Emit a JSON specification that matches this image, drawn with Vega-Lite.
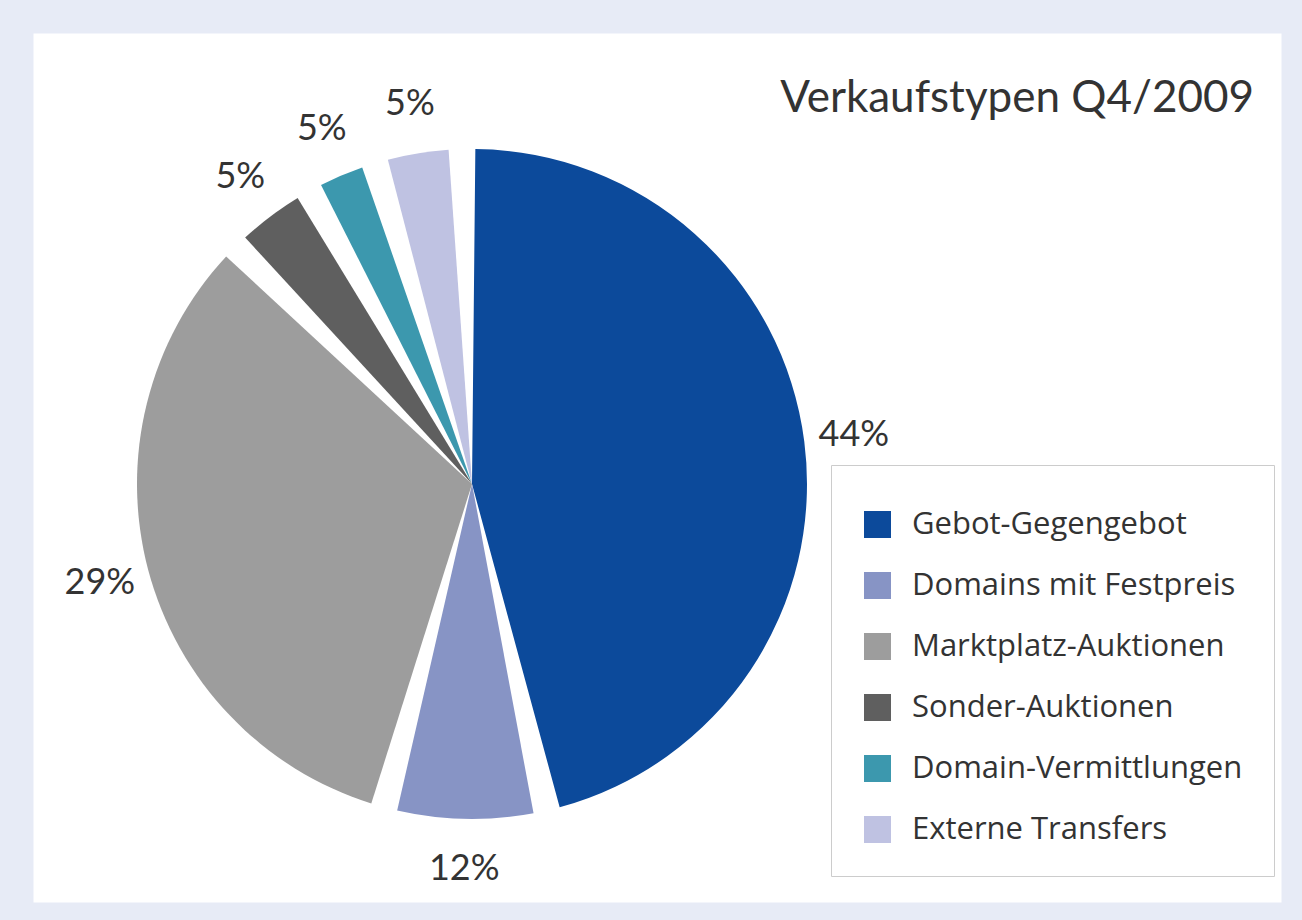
{
  "$schema": "https://vega.github.io/schema/vega-lite/v6.json",
  "width": 1302,
  "height": 920,
  "autosize": {"type": "fit", "contains": "padding"},
  "padding": {"left": 33, "top": 33, "right": 21, "bottom": 18},
  "background": "#e7ebf6",
  "view": {"fill": "#ffffff", "stroke": "transparent"},
  "config": {"view": {"fill": "#ffffff", "stroke": "transparent"}, "font": "Lato"},
  "title": {
    "text": "Verkaufstypen Q4/2009",
    "anchor": "end",
    "fontSize": 44,
    "font": "Lato",
    "fontWeight": "normal",
    "color": "#333333",
    "offset": 0,
    "dy": 88,
    "dx": -27
  },
  "data": {
    "values": [
      {"Verkaufstyp": "Gebot-Gegengebot", "Anteil": 46.9, "Label": "44%", "Rang": 1},
      {"Verkaufstyp": "Domains mit Festpreis", "Anteil": 7.8, "Label": "12%", "Rang": 2},
      {"Verkaufstyp": "Marktplatz-Auktionen", "Anteil": 33.3, "Label": "29%", "Rang": 3},
      {"Verkaufstyp": "Sonder-Auktionen", "Anteil": 4.4, "Label": "5%", "Rang": 4},
      {"Verkaufstyp": "Domain-Vermittlungen", "Anteil": 3.4, "Label": "5%", "Rang": 5},
      {"Verkaufstyp": "Externe Transfers", "Anteil": 4.2, "Label": "5%", "Rang": 6}
    ]
  },
  "encoding": {
    "theta": {"field": "Anteil", "type": "quantitative", "stack": true, "scale": {"range": [-0.03, 6.2532]}},
    "order": {"field": "Rang", "type": "quantitative"}
  },
  "layer": [
    {
      "mark": {"type": "arc", "outerRadius": 335, "padAngle": 0.08, "x": 439, "y": 451},
      "encoding": {
        "color": {
          "field": "Verkaufstyp",
          "type": "nominal",
          "scale": {
            "domain": ["Gebot-Gegengebot", "Domains mit Festpreis", "Marktplatz-Auktionen", "Sonder-Auktionen", "Domain-Vermittlungen", "Externe Transfers"],
            "range": ["#0c4a9b", "#8794c5", "#9d9d9d", "#5f5f5f", "#3c98ae", "#bfc2e2"]
          },
          "legend": {
            "orient": "none",
            "legendX": 798,
            "legendY": 432,
            "title": " ",
            "titleFontSize": 10,
            "titlePadding": 3,
            "labelFontSize": 31,
            "labelFont": "Open Sans",
            "labelFontWeight": 500,
            "labelColor": "#333333",
            "symbolType": "square",
            "symbolSize": 729,
            "symbolStrokeWidth": 0,
            "symbolOpacity": 1,
            "rowPadding": 29,
            "padding": 31,
            "strokeColor": "#cccccc",
            "labelOffset": 19,
            "labelLimit": 600
          }
        }
      }
    },
    {
      "mark": {"type": "text", "radius": 385, "x": 439, "y": 451, "fontSize": 36, "font": "Lato", "color": "#333333"},
      "encoding": {"text": {"field": "Label"}}
    }
  ]
}
